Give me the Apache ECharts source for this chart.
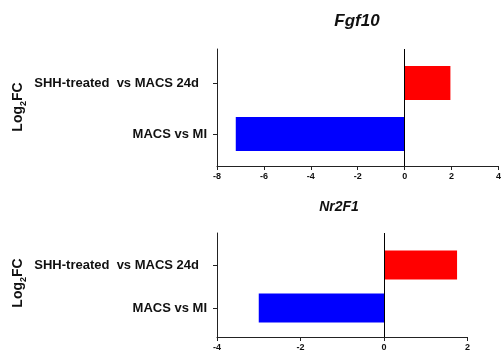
<!DOCTYPE html>
<html>
<head>
<meta charset="utf-8">
<script src="https://cdn.jsdelivr.net/npm/echarts@6/dist/echarts.min.js"></script>
<style>
  html, body { margin: 0; padding: 0; background: #fff; }
  #main { width: 504px; height: 356px; }
</style>
</head>
<body>
<div id="main"></div>
<script>
// categories, bottom to top
const categories = ['MACS vs MI', 'SHH-treated  vs MACS 24d'];
const barColors = ['#0000ff', '#ff0000'];

const fgf10Values = [-7.2, 1.95];
const nr2f1Values = [-3.0, 1.75];

const fgf10Ticks = [-8, -6, -4, -2, 0, 2, 4];
const nr2f1Ticks = [-4, -2, 0, 2];

const BAR_H = 0.67; // bar thickness in category units

const font = 'Liberation Sans, Arial, sans-serif';
let chart = echarts.init(document.getElementById('main'));

function renderBar(params, api) {
  let v = api.value(0);
  let y = api.value(1);
  let p0 = api.coord([0, y]);
  let p1 = api.coord([v, y]);
  let h = api.size([0, BAR_H])[1];
  return {
    type: 'rect',
    shape: {
      x: Math.min(p0[0], p1[0]),
      y: p0[1] - h / 2,
      width: Math.abs(p1[0] - p0[0]),
      height: h
    },
    style: { fill: barColors[y] }
  };
}

function xAxisFor(gridIndex, ticks) {
  return {
    type: 'value',
    gridIndex: gridIndex,
    min: ticks[0],
    max: ticks[ticks.length - 1],
    interval: 2,
    splitLine: { show: false },
    axisLine: { show: true, onZero: false, lineStyle: { color: '#222', width: 1 } },
    axisTick: { show: true, length: 4, lineStyle: { color: '#222' } },
    axisLabel: { color: '#111', fontFamily: font, fontWeight: 'bold', fontSize: 9, margin: 6 }
  };
}

function yAxisFor(gridIndex, min, max) {
  return {
    type: 'value',
    gridIndex: gridIndex,
    min: min,
    max: max,
    splitLine: { show: false },
    axisLine: { show: true, onZero: false, lineStyle: { color: '#222', width: 1 } },
    axisTick: { show: true, length: 4, customValues: [0, 1], lineStyle: { color: '#222' } },
    axisLabel: {
      customValues: [0, 1],
      margin: 10,
      formatter: function (v) {
        let i = Math.round(v);
        return '{c' + i + '|' + (categories[i] || '') + '}';
      },
      rich: {
        c0: { color: '#111', fontFamily: font, fontWeight: 'bold', fontSize: 13 },
        c1: { color: '#111', fontFamily: font, fontWeight: 'bold', fontSize: 13, padding: [0, 8, 0, 0] }
      }
    }
  };
}

function seriesFor(idx, values) {
  return {
    type: 'custom',
    xAxisIndex: idx,
    yAxisIndex: idx,
    renderItem: renderBar,
    encode: { x: 0, y: 1 },
    data: values.map(function (v, i) { return [v, i]; }),
    markLine: {
      silent: true,
      symbol: 'none',
      label: { show: false },
      lineStyle: { color: '#000', width: 1, type: 'solid' },
      data: [{ xAxis: 0 }]
    }
  };
}

function log2fc(cy) {
  return {
    type: 'text',
    x: 16,
    y: cy,
    rotation: Math.PI / 2,
    style: {
      text: '{a|Log}{b|2}{a|FC}',
      align: 'center',
      verticalAlign: 'middle',
      rich: {
        a: { fontFamily: font, fontWeight: 'bold', fontSize: 14, fill: '#111', lineHeight: 18, verticalAlign: 'bottom' },
        b: { fontFamily: font, fontWeight: 'bold', fontSize: 9, fill: '#111', lineHeight: 12, verticalAlign: 'bottom', padding: [0, 0, -3, 0] }
      }
    }
  };
}

let option = {
  animation: false,
  grid: [
    { left: 217, top: 49, width: 285, height: 117 },
    { left: 217, top: 233, width: 250.5, height: 104 }
  ],
  xAxis: [xAxisFor(0, fgf10Ticks), xAxisFor(1, nr2f1Ticks)],
  yAxis: [yAxisFor(0, -0.627, 1.667), yAxisFor(1, -0.674, 1.744)],
  series: [seriesFor(0, fgf10Values), seriesFor(1, nr2f1Values)],
  graphic: [
    {
      type: 'text', x: 357, y: 21,
      style: { text: 'Fgf10', align: 'center', verticalAlign: 'middle', fontFamily: font, fontWeight: 'bold', fontStyle: 'italic', fontSize: 17, fill: '#111' }
    },
    {
      type: 'text', x: 339, y: 207,
      style: { text: 'Nr2F1', align: 'center', verticalAlign: 'middle', fontFamily: font, fontWeight: 'bold', fontStyle: 'italic', fontSize: 14, fill: '#111' }
    },
    log2fc(107),
    log2fc(283)
  ]
};

chart.setOption(option);
</script>
</body>
</html>
